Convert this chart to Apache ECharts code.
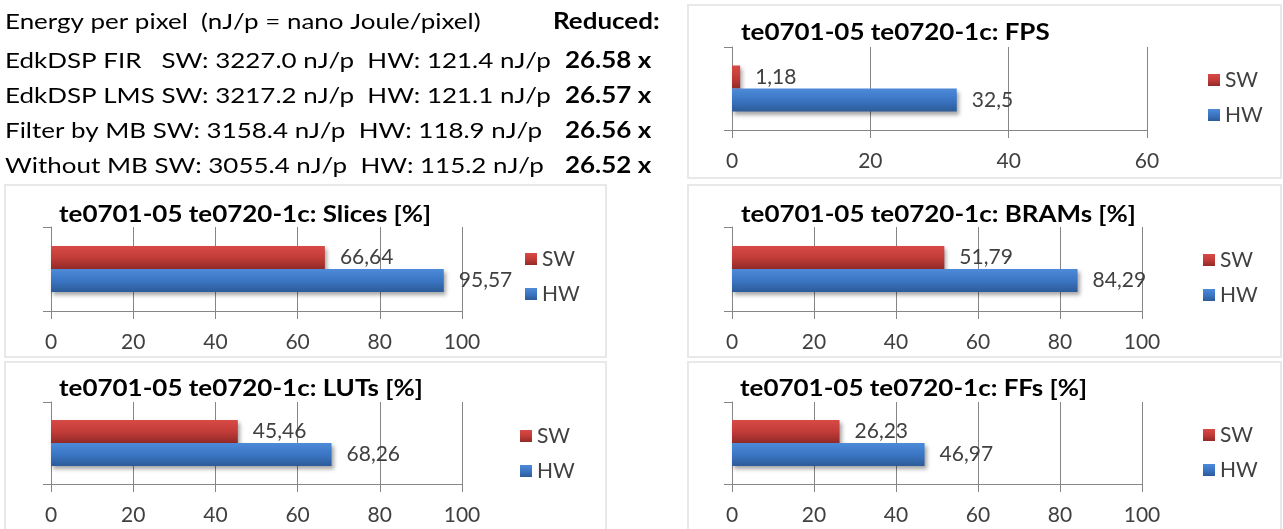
<!DOCTYPE html>
<html>
<head>
<meta charset="utf-8">
<script src="https://cdn.jsdelivr.net/npm/echarts@6/dist/echarts.min.js"></script>
<style>
html,body{margin:0;padding:0;background:#fff;}
#chart{width:1283px;height:529px;}
</style>
</head>
<body>
<div id="chart"></div>
<script>
// ---- data ----
const energyHeader = "Energy per pixel  (nJ/p = nano Joule/pixel)";
const reducedHeader = "Reduced:";
const energyNames = ["EdkDSP FIR", "EdkDSP LMS", "Filter by MB", "Without MB"];
const swEnergy = [3227.0, 3217.2, 3158.4, 3055.4];
const hwEnergy = [121.4, 121.1, 118.9, 115.2];
const reducedFactor = [26.58, 26.57, 26.56, 26.52];

const panelTitles = [
  "te0701-05 te0720-1c: FPS",
  "te0701-05 te0720-1c: Slices [%]",
  "te0701-05 te0720-1c: BRAMs [%]",
  "te0701-05 te0720-1c: LUTs [%]",
  "te0701-05 te0720-1c: FFs [%]"
];
const seriesNames = ["SW", "HW"];
const swValues = [1.18, 66.64, 51.79, 45.46, 26.23];
const hwValues = [32.5, 95.57, 84.29, 68.26, 46.97];
const axisMax = [60, 100, 100, 100, 100];
const axisInterval = [20, 20, 20, 20, 20];

// ---- layout ----
const FONT = "Lato";
const STRETCH = 1.18;
const panels = [
  {box:[688,5,593,173], grid:{left:732,top:47,width:415,height:83}, title:[741,33], legend:[1208,68]},
  {box:[5,185,601,172], grid:{left:51,top:227,width:411,height:84}, title:[59,215], legend:[525,247]},
  {box:[688,185,593,172], grid:{left:732,top:227,width:410,height:84}, title:[741,215], legend:[1203,248]},
  {box:[5,362,601,180], grid:{left:51,top:402,width:411,height:82}, title:[59,389], legend:[520,424]},
  {box:[688,362,593,180], grid:{left:732,top:402,width:410,height:82}, title:[740,389], legend:[1203,423]}
];

const redGrad = new echarts.graphic.LinearGradient(0,0,0,1,[
  {offset:0,color:'#d84a46'},{offset:0.5,color:'#c23c38'},{offset:1,color:'#922a28'}]);
const blueGrad = new echarts.graphic.LinearGradient(0,0,0,1,[
  {offset:0,color:'#4d8ad8'},{offset:0.5,color:'#3b76c4'},{offset:1,color:'#2c5b98'}]);

const fmt = p => String(p.value).replace('.', ',');
const AX = '#868686';

function stretchedText(str, x, y, size, bold) {
  return {type:'text', x:x, y:y, scaleX:STRETCH, silent:true,
    style:{text:str, x:0, y:0, fontFamily:FONT, fontSize:size,
      fontWeight:bold ? 'bold' : 'normal', fill:'#000', verticalAlign:'middle'}};
}

const grids=[], xAxes=[], yAxes=[], series=[], legends=[], graphics=[];
panels.forEach((p,i)=>{
  graphics.push({type:'rect', silent:true, z:-10,
    shape:{x:p.box[0], y:p.box[1], width:p.box[2], height:p.box[3]},
    style:{fill:'none', stroke:'#e8e8e8', lineWidth:2}});
  graphics.push(stretchedText(panelTitles[i], p.title[0], p.title[1], 22, true));
  grids.push(Object.assign({containLabel:false}, p.grid));
  xAxes.push({type:'value', gridIndex:i, min:0, max:axisMax[i], interval:axisInterval[i],
    axisLine:{show:true, lineStyle:{color:AX}},
    axisTick:{show:true, length:8, lineStyle:{color:AX}},
    splitLine:{show:true, lineStyle:{color:AX}},
    axisLabel:{fontFamily:FONT, fontSize:21, color:'#404040', margin:19, lineHeight:24}});
  yAxes.push({type:'category', gridIndex:i, data:[''],
    axisLine:{show:true, lineStyle:{color:AX}},
    axisTick:{show:true, length:8, lineStyle:{color:AX}},
    axisLabel:{show:false}});
  legends.push({orient:'vertical', left:p.legend[0], top:p.legend[1], padding:0,
    itemWidth:12, itemHeight:12, itemGap:11, selectedMode:false, icon:'rect',
    data:seriesNames,
    textStyle:{fontFamily:FONT, fontSize:21, color:'#404040', lineHeight:24}});
  const vals=[swValues[i], hwValues[i]];
  const cols=[redGrad, blueGrad];
  seriesNames.forEach((n,k)=>{
    series.push({type:'bar', name:n, xAxisIndex:i, yAxisIndex:i, data:[vals[k]],
      barWidth:23, barGap:'0%',
      itemStyle:{color:cols[k], shadowColor:'rgba(0,0,0,0.35)', shadowBlur:4, shadowOffsetX:2, shadowOffsetY:3},
      label:{show:true, position:'right', distance:15, formatter:fmt,
        fontFamily:FONT, fontSize:21, color:'#404040'},
      emphasis:{disabled:true}, animation:false});
  });
});

// text block
const rowY = [22, 61, 96, 131, 166];
graphics.push(stretchedText(energyHeader, 5, rowY[0], 22, false));
graphics.push(stretchedText(reducedHeader, 553, rowY[0], 22, true));
energyNames.forEach((n,i)=>{
  const sep = i===0 ? '   ' : ' ';
  const t = n + sep + 'SW: ' + swEnergy[i].toFixed(1) + ' nJ/p  HW: ' + hwEnergy[i].toFixed(1) + ' nJ/p';
  graphics.push(stretchedText(t, 5, rowY[i+1], 22, false));
  graphics.push(stretchedText(reducedFactor[i].toFixed(2)+' x', 565, rowY[i+1], 22, true));
});

const chart = echarts.init(document.getElementById('chart'), null, {renderer:'canvas'});
chart.setOption({
  backgroundColor:'#fff',
  animation:false,
  legend:legends, grid:grids, xAxis:xAxes, yAxis:yAxes, series:series,
  graphic:graphics
});
</script>
</body>
</html>
